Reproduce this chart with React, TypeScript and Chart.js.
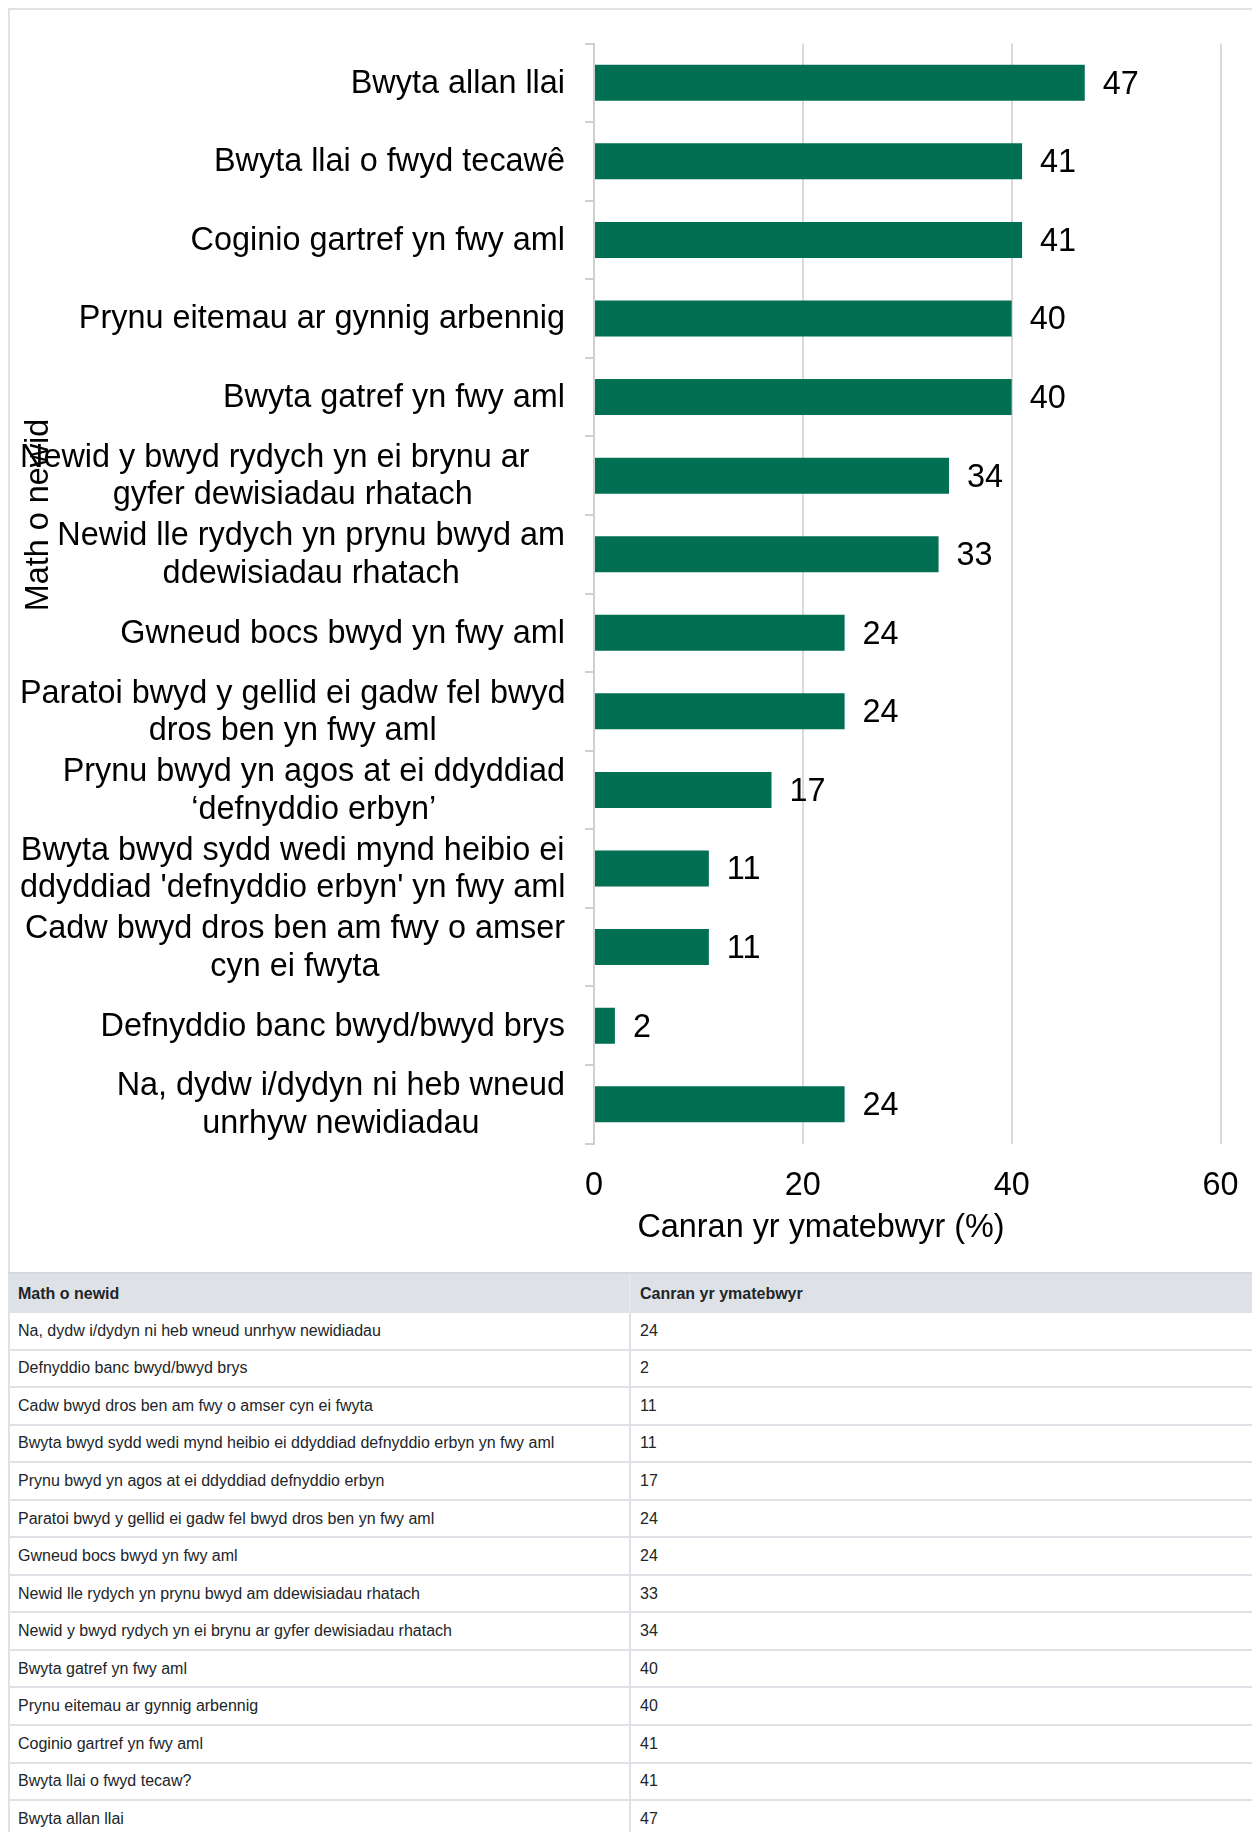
import React, { useEffect, useRef } from "react";
import { Chart, registerables } from "chart.js";

Chart.register(...registerables);

const categories: (string | string[])[] = [
  "Bwyta allan llai",
  "Bwyta llai o fwyd tecawê",
  "Coginio gartref yn fwy aml",
  "Prynu eitemau ar gynnig arbennig",
  "Bwyta gatref yn fwy aml",
  ["Newid y bwyd rydych yn ei brynu ar    ", "gyfer dewisiadau rhatach"],
  ["Newid lle rydych yn prynu bwyd am", "ddewisiadau rhatach"],
  "Gwneud bocs bwyd yn fwy aml",
  ["Paratoi bwyd y gellid ei gadw fel bwyd", "dros ben yn fwy aml"],
  ["Prynu bwyd yn agos at ei ddyddiad", "‘defnyddio erbyn’"],
  ["Bwyta bwyd sydd wedi mynd heibio ei", "ddyddiad 'defnyddio erbyn' yn fwy aml"],
  ["Cadw bwyd dros ben am fwy o amser", "cyn ei fwyta"],
  "Defnyddio banc bwyd/bwyd brys",
  ["Na, dydw i/dydyn ni heb wneud", "unrhyw newidiadau"],
];

const percentages: number[] = [47, 41, 41, 40, 40, 34, 33, 24, 24, 17, 11, 11, 2, 24];

const xTickValues: number[] = [0, 20, 40, 60];

const xAxisTitle = "Canran yr ymatebwyr (%)";
const yAxisTitle = "Math o newid";

const tableHeaders: string[] = ["Math o newid", "Canran yr ymatebwyr"];

const tableLabels: string[] = [
  "Na, dydw i/dydyn ni heb wneud unrhyw newidiadau",
  "Defnyddio banc bwyd/bwyd brys",
  "Cadw bwyd dros ben am fwy o amser cyn ei fwyta",
  "Bwyta bwyd sydd wedi mynd heibio ei ddyddiad defnyddio erbyn yn fwy aml",
  "Prynu bwyd yn agos at ei ddyddiad defnyddio erbyn",
  "Paratoi bwyd y gellid ei gadw fel bwyd dros ben yn fwy aml",
  "Gwneud bocs bwyd yn fwy aml",
  "Newid lle rydych yn prynu bwyd am ddewisiadau rhatach",
  "Newid y bwyd rydych yn ei brynu ar gyfer dewisiadau rhatach",
  "Bwyta gatref yn fwy aml",
  "Prynu eitemau ar gynnig arbennig",
  "Coginio gartref yn fwy aml",
  "Bwyta llai o fwyd tecaw?",
  "Bwyta allan llai",
];

const tableValues: number[] = [...percentages].reverse();

const FONT_FAMILY = '"Liberation Sans", Arial, Helvetica, sans-serif';
const FONT_SIZE = 32.4;
const LINE_H = 37.4;
const BAR_COLOR = "#006f52";
const GRID_COLOR = "#dadada";
const AXIS_COLOR = "#cfcfcf";

const CANVAS_W = 1242;
const CANVAS_H = 1260;

const customLabels = {
  id: "customLabels",
  afterDraw(chart: any) {
    const ctx = chart.ctx;
    const yScale = chart.scales.y;
    const area = chart.chartArea;
    ctx.save();
    ctx.font = `${FONT_SIZE}px ${FONT_FAMILY}`;
    ctx.fillStyle = "#000";
    ctx.textBaseline = "middle";

    // y-axis category labels: block right aligned, lines centred
    ctx.textAlign = "center";
    const right = area.left - 29;
    const minLeft = 10;
    (chart.data.labels as (string | string[])[]).forEach((lab, i) => {
      const lines = Array.isArray(lab) ? lab : [lab];
      const w = Math.max(...lines.map((l) => ctx.measureText(l).width));
      let cx = right - w / 2;
      if (cx - w / 2 < minLeft) cx = minLeft + w / 2;
      const cy = yScale.getPixelForValue(i) + 1;
      lines.forEach((l, j) => {
        ctx.fillText(l, cx, cy + (j - (lines.length - 1) / 2) * LINE_H);
      });
    });

    // value labels
    ctx.textAlign = "left";
    const meta = chart.getDatasetMeta(0);
    const vals = chart.data.datasets[0].data as number[];
    meta.data.forEach((bar: any, i: number) => {
      ctx.fillText(String(vals[i]), bar.x + 18, bar.y + 2);
    });

    // x-axis title
    ctx.textAlign = "center";
    ctx.fillText(xAxisTitle, 811, 1218);

    // y-axis title
    ctx.translate(29, 505);
    ctx.rotate(-Math.PI / 2);
    ctx.fillText(yAxisTitle, 0, 0);
    ctx.restore();
  },
};

function BarChart() {
  const ref = useRef<HTMLCanvasElement | null>(null);
  useEffect(() => {
    if (!ref.current) return;
    const chart = new Chart(ref.current, {
      type: "bar",
      data: {
        labels: categories as any,
        datasets: [
          {
            data: percentages,
            backgroundColor: BAR_COLOR,
            borderWidth: 0,
            categoryPercentage: 1,
            barPercentage: 0.458,
          },
        ],
      },
      options: {
        indexAxis: "y",
        responsive: false,
        animation: false,
        devicePixelRatio: 1,
        layout: { padding: { top: 33.5, right: 31.5, bottom: 0, left: 0 } },
        plugins: {
          legend: { display: false },
          tooltip: { enabled: false },
          title: { display: false },
        },
        scales: {
          x: {
            type: "linear",
            position: "bottom",
            min: 0,
            max: 60,
            afterBuildTicks: (s: any) => {
              s.ticks = xTickValues.map((v) => ({ value: v }));
            },
            afterFit: (s: any) => {
              s.height = 126.5;
              s.paddingLeft = 0;
              s.paddingRight = 0;
            },
            ticks: {
              font: { size: FONT_SIZE, family: FONT_FAMILY },
              color: "#000",
              padding: 23,
              maxRotation: 0,
            },
            grid: { color: GRID_COLOR, lineWidth: 2, drawTicks: false },
            border: { display: false },
          },
          y: {
            type: "category",
            position: "left",
            afterFit: (s: any) => {
              s.width = 584;
              s.paddingTop = 0;
              s.paddingBottom = 0;
            },
            ticks: { display: false },
            grid: {
              offset: true,
              drawOnChartArea: false,
              drawTicks: true,
              tickLength: 9,
              color: AXIS_COLOR,
              lineWidth: 2,
            },
            border: { display: true, color: AXIS_COLOR, width: 2, z: 1 } as any,
          },
        },
      },
      plugins: [customLabels],
    });
    return () => chart.destroy();
  }, []);
  return (
    <canvas
      ref={ref}
      width={CANVAS_W}
      height={CANVAS_H}
      style={{ display: "block", width: CANVAS_W, height: CANVAS_H }}
    />
  );
}

const cellFont: React.CSSProperties = {
  fontFamily: FONT_FAMILY,
  fontSize: 16,
  color: "#212529",
  whiteSpace: "nowrap",
  display: "flex",
  alignItems: "center",
  boxSizing: "border-box",
};

function DataTable() {
  return (
    <div style={{ width: 1400 }}>
      <div
        style={{
          display: "flex",
          background: "#dee2e6",
          borderTop: "2px solid #d5d8dc",
          height: 41,
          boxSizing: "border-box",
        }}
      >
        <div
          style={{
            ...cellFont,
            fontWeight: "bold",
            width: 623,
            paddingLeft: 10,
            borderRight: "2px solid #e5e8eb",
          }}
        >
          {tableHeaders[0]}
        </div>
        <div style={{ ...cellFont, fontWeight: "bold", paddingLeft: 9 }}>{tableHeaders[1]}</div>
      </div>
      {tableLabels.map((lab, i) => (
        <div
          key={i}
          style={{
            display: "flex",
            height: 37.55,
            borderBottom: "2px solid #dee2e6",
            borderLeft: "2px solid #dee2e6",
            boxSizing: "border-box",
          }}
        >
          <div
            style={{
              ...cellFont,
              width: 621,
              paddingLeft: 8,
              borderRight: "2px solid #dee2e6",
            }}
          >
            {lab}
          </div>
          <div style={{ ...cellFont, paddingLeft: 9 }}>{tableValues[i]}</div>
        </div>
      ))}
    </div>
  );
}

export default function App() {
  return (
    <div
      style={{
        position: "fixed",
        top: 0,
        left: 0,
        width: 1252,
        height: 1832,
        overflow: "hidden",
        background: "#fff",
      }}
    >
      <div style={{ position: "absolute", left: 8, top: 8 }}>
        <div
          style={{
            width: 1400,
            height: 1262,
            borderTop: "2px solid #e2e2e2",
            borderLeft: "2px solid #e2e2e2",
          }}
        >
          <BarChart />
        </div>
        <DataTable />
      </div>
    </div>
  );
}
